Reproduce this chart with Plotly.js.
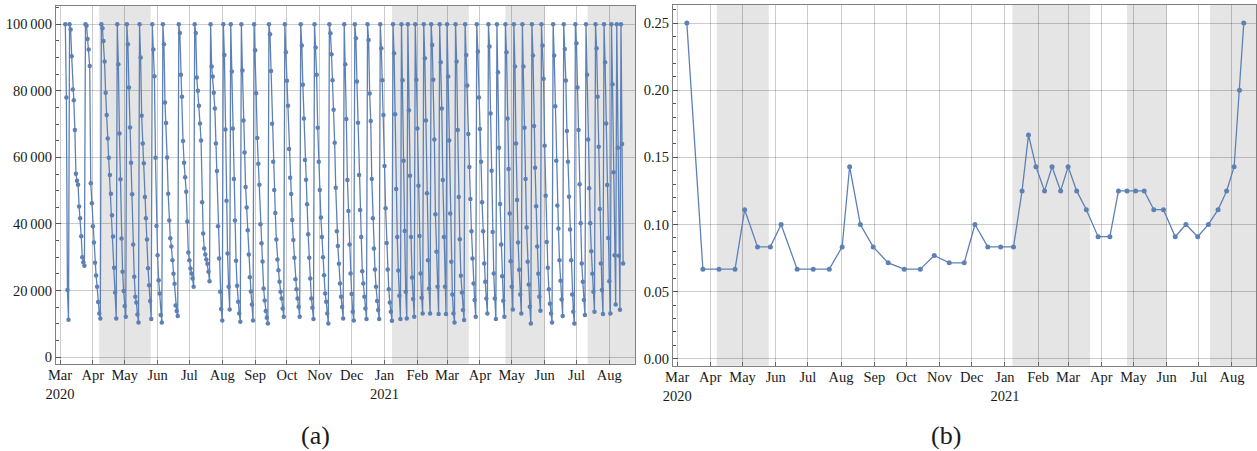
<!DOCTYPE html>
<html><head><meta charset="utf-8">
<script src="https://cdn.plot.ly/plotly-3.0.1.min.js"></script>
<style>html,body{margin:0;padding:0;background:#fff;} #chart{width:1257px;height:451px;}</style>
</head><body><div id="chart"></div>
<script>
// ---- data ----
const dailyStart = "2020-03-06";
const dailyValues = [
  100000, 78000, 20100, 11200,
  100000, 98400, 90400, 80400, 77200, 68200, 55100, 53000, 51800, 45200, 41700, 36300, 30000, 28500, 27400,
  100000, 99600, 95600, 92400, 87500, 52200, 46200, 39300, 34400, 28300, 24500, 21100, 16500, 13100, 11600,
  100000, 98800, 95000, 88800, 79400, 72700, 65700, 59900, 54700, 49100, 42600, 36200, 26800, 19400, 11600,
  100000, 88000, 67200, 53400, 35600, 25600, 19800, 15300, 12100,
  100000, 94000, 81000, 69000, 58400, 48900, 33800, 24100, 18100, 16400, 12800, 10400,
  100000, 90000, 72500, 64200, 58200, 48100, 41700, 35300, 26700, 21600, 16800, 11400,
  100000, 92400, 84400, 59900, 39400, 30600, 23100, 19100, 12600, 10400,
  100000, 94000, 76500, 70300, 60000, 49100, 41000, 35700, 33200, 29100, 25000, 22000, 15500, 13800, 12300,
  100000, 97400, 84800, 78200, 64900, 58400, 54000, 49700, 40700, 31400, 29100, 26600, 25100, 23600, 21100,
  100000, 97400, 84000, 80000, 75500, 70200, 65100, 46500, 37100, 32600, 30800, 29300, 28000, 25600, 22800,
  100000, 87300, 84300, 79400, 74700, 64200, 55900, 39300, 29600, 19600, 14400, 11000,
  100000, 90800, 68400, 47000, 31100, 21100, 14300,
  100000, 85800, 68700, 53500, 41000, 28900, 21400, 16600, 13100, 10600,
  100000, 86100, 71100, 61500, 51100, 44900, 38100, 30800, 24000, 19700, 15800, 11000,
  100000, 92200, 79300, 65800, 58100, 51800, 39900, 34200, 28700, 20600, 17000, 13800, 11800, 10100,
  100000, 97000, 86000, 70100, 58700, 50200, 43300, 35300, 29300, 26100, 22600, 19600, 17600, 14600, 12100,
  100000, 91600, 83000, 75500, 62500, 53900, 49000, 41200, 35200, 29800, 23400, 20400, 17600, 15100, 12100,
  100000, 93600, 81800, 71700, 59200, 53300, 45900, 36900, 29800, 23600, 17600, 14800, 11400,
  100000, 93000, 84800, 68900, 58700, 50200, 41900, 36100, 30000, 24600, 19100, 16600, 13100, 10100,
  100000, 97300, 91000, 83200, 74300, 64400, 50900, 37800, 33400, 28000, 22100, 18100, 15000, 11600,
  100000, 88000, 71500, 53200, 43900, 33800, 25100, 18900, 13600, 11000,
  100000, 95800, 82800, 70400, 54700, 44200, 36100, 25800, 22100, 18100, 14600, 11400,
  100000, 95300, 79200, 70900, 53500, 41700, 32600, 26300, 21100, 16800, 14100, 11400,
  100000, 92800, 83200, 72700, 57400, 44700, 34300, 26300, 20400, 16400, 13600, 10900,
  100000, 91300, 73000, 50500, 36100, 26000, 18400, 11400,
  100000, 83200, 59000, 37900, 19600, 11600,
  100000, 74200, 54500, 36100, 23900, 17400, 12100,
  100000, 83300, 68700, 51500, 36400, 25100, 17800, 13100,
  100000, 89800, 71100, 49200, 29100, 20600, 13100,
  100000, 93800, 83300, 65400, 42900, 31600, 21100, 12900,
  100000, 88600, 74700, 53200, 36100, 21100, 12900,
  100000, 84300, 65100, 43100, 28600, 18800, 13100, 10400,
  100000, 88800, 68200, 48100, 35400, 24400, 19400, 14100, 11100,
  100000, 90800, 81600, 67000, 57100, 47500, 37800, 29600, 22100, 17100, 12100,
  100000, 91800, 78000, 68500, 58700, 46500, 37800, 28100, 22600, 17600, 13100,
  100000, 93300, 73200, 56000, 37600, 25100, 17600, 11400,
  100000, 85600, 62900, 46000, 33800, 24300, 16900, 12100,
  100000, 91600, 71700, 56500, 43100, 28800, 21100, 14300,
  100000, 87300, 64200, 47200, 34400, 26200, 18800, 13100,
  100000, 87300, 68900, 53500, 38900, 28600, 21800, 15100, 10100,
  100000, 90600, 69400, 56900, 45300, 33200, 25000, 18100, 13900,
  100000, 93600, 83600, 63500, 48500, 34600, 26800, 20400, 16000, 13100, 10400,
  100000, 90600, 75400, 59000, 45500, 38600, 29100, 22900, 17300, 12300,
  100000, 92600, 83100, 67900, 58700, 48200, 38300, 29100, 18800, 13600, 10100,
  100000, 94300, 81000, 68200, 51900, 40200, 28100, 22600, 17100, 12600,
  100000, 84800, 65400, 50700, 40200, 31800, 25000, 19600, 13600,
  100000, 92800, 78200, 63200, 44500, 28100, 20100, 12900,
  100000, 88600, 70200, 51700, 35800, 22800, 13100,
  100000, 82000, 55500, 30600, 15800,
  100000, 62900, 30400, 14200,
  100000, 64000, 28100
];

const cycleDates = [
  "2020-03-10","2020-03-25","2020-04-09","2020-04-24","2020-05-03","2020-05-15","2020-05-27","2020-06-06",
  "2020-06-21","2020-07-06","2020-07-21","2020-08-02","2020-08-09","2020-08-19","2020-08-31","2020-09-14",
  "2020-09-29","2020-10-14","2020-10-27","2020-11-10","2020-11-24","2020-12-04","2020-12-16","2020-12-28",
  "2021-01-09","2021-01-17","2021-01-23","2021-01-30","2021-02-07","2021-02-14","2021-02-22","2021-03-01",
  "2021-03-09","2021-03-18","2021-03-29","2021-04-09","2021-04-17","2021-04-25","2021-05-03","2021-05-11",
  "2021-05-20","2021-05-29","2021-06-09","2021-06-19","2021-06-30","2021-07-10","2021-07-19","2021-07-27",
  "2021-08-03","2021-08-08","2021-08-12"
];
const cycleRates = [
  0.25, 0.0667, 0.0667, 0.0667, 0.111, 0.0833, 0.0833, 0.1,
  0.0667, 0.0667, 0.0667, 0.0833, 0.143, 0.1, 0.0833, 0.0714,
  0.0667, 0.0667, 0.0769, 0.0714, 0.0714, 0.1, 0.0833, 0.0833,
  0.0833, 0.125, 0.1667, 0.143, 0.125, 0.143, 0.125, 0.143,
  0.125, 0.111, 0.0909, 0.0909, 0.125, 0.125, 0.125, 0.125,
  0.111, 0.111, 0.0909, 0.1, 0.0909, 0.1, 0.111, 0.125,
  0.143, 0.2, 0.25
];

const monthTicks = ["2020-03-01","2020-04-01","2020-05-01","2020-06-01","2020-07-01","2020-08-01","2020-09-01",
  "2020-10-01","2020-11-01","2020-12-01","2021-01-01","2021-02-01","2021-03-01","2021-04-01","2021-05-01",
  "2021-06-01","2021-07-01","2021-08-01"];
const monthLabels = ["Mar<br>2020","Apr","May","Jun","Jul","Aug","Sep","Oct","Nov","Dec","Jan<br>2021",
  "Feb","Mar","Apr","May","Jun","Jul","Aug"];
const yTicksA = [0, 20000, 40000, 60000, 80000, 100000];
const yTicksB = [0, 0.05, 0.10, 0.15, 0.20, 0.25];
const shadeStarts = ["2020-04-07", "2021-01-08", "2021-04-25", "2021-07-11 12:00"];
const shadeEnds = ["2020-05-25 12:00", "2021-03-21 12:00", "2021-06-01", "2021-10-01"];
const panelLabels = ["(a)", "(b)"];

// ---- build ----
function addDays(s, n) {
  const d = new Date(s + "T00:00:00Z");
  d.setUTCDate(d.getUTCDate() + n);
  return d.toISOString().slice(0, 10);
}
const dailyDates = dailyValues.map((_, i) => addDays(dailyStart, i));

const blue = "#5E81B5";
const font = {family: "Liberation Serif, DejaVu Serif, serif", size: 14.5, color: "#1a1a1a"};
const W = 1257, H = 451;

const traces = [
  {x: dailyDates, y: dailyValues, xaxis: "x", yaxis: "y", type: "scatter", mode: "lines+markers",
   line: {color: blue, width: 1.3}, marker: {color: blue, size: 4.5}, hoverinfo: "skip"},
  {x: cycleDates, y: cycleRates, xaxis: "x2", yaxis: "y2", type: "scatter", mode: "lines+markers",
   line: {color: blue, width: 1.3}, marker: {color: blue, size: 5}, hoverinfo: "skip"}
];

function xAxis(domain, range, anchor) {
  return {domain, range, anchor, type: "date", tickvals: monthTicks, ticktext: monthLabels,
    ticks: "inside", ticklen: 4, tickcolor: "#666", showgrid: true, gridcolor: "rgba(0,0,0,0.2)",
    gridwidth: 1, showline: true, linecolor: "#808080", linewidth: 1, mirror: true, zeroline: false,
    tickfont: font, ticklabelstandoff: -2, fixedrange: true};
}
function yAxis(domain, range, anchor, ticks, fmt, minorStep) {
  return {domain, range, anchor, tickvals: ticks, tickformat: fmt, ticks: "inside", ticklen: 5,
    tickcolor: "#555", showgrid: true, gridcolor: "rgba(0,0,0,0.2)", gridwidth: 1, showline: true,
    linecolor: "#808080", linewidth: 1, mirror: true, zeroline: false, tickfont: font,
    minor: {dtick: minorStep, ticks: "inside", ticklen: 2.5, tickcolor: "#555", showgrid: false},
    fixedrange: true};
}

const shapes = [];
shadeStarts.forEach((s, i) => {
  ["x", "x2"].forEach((xr, k) => {
    shapes.push({type: "rect", xref: xr, yref: (k === 0 ? "y" : "y2") + " domain",
      x0: s, x1: shadeEnds[i], y0: 0, y1: 1, fillcolor: "#e5e5e5", line: {width: 0}, layer: "below"});
  });
});

const layout = {
  width: W, height: H, margin: {l: 0, r: 0, t: 0, b: 0},
  paper_bgcolor: "#fff", plot_bgcolor: "#fff", showlegend: false,
  separators: ".\u2009",
  font: font,
  xaxis: xAxis([56 / W, 635 / W], ["2020-02-26 05:00", "2021-08-25 05:00"], "y"),
  yaxis: yAxis([(H - 363.7) / H, (H - 6) / H], [-2015, 105500], "x", yTicksA, ",d", 5000),
  xaxis2: xAxis([673 / W, 1256 / W], ["2020-02-26 02:00", "2021-08-23 10:00"], "y2"),
  yaxis2: yAxis([(H - 365.7) / H, (H - 4.7) / H], [-0.0052, 0.2637], "x2", yTicksB, ".2f", 0.01),
  shapes: shapes,
  annotations: panelLabels.map((t, i) => ({text: t, xref: "paper", yref: "paper",
    x: (i === 0 ? 315 : 946) / W, y: (H - 435) / H, xanchor: "center", yanchor: "middle",
    showarrow: false, font: {family: font.family, size: 26, color: "#1a1a1a"}}))
};

Plotly.newPlot("chart", traces, layout, {staticPlot: true, displayModeBar: false});
</script>
</body></html>
